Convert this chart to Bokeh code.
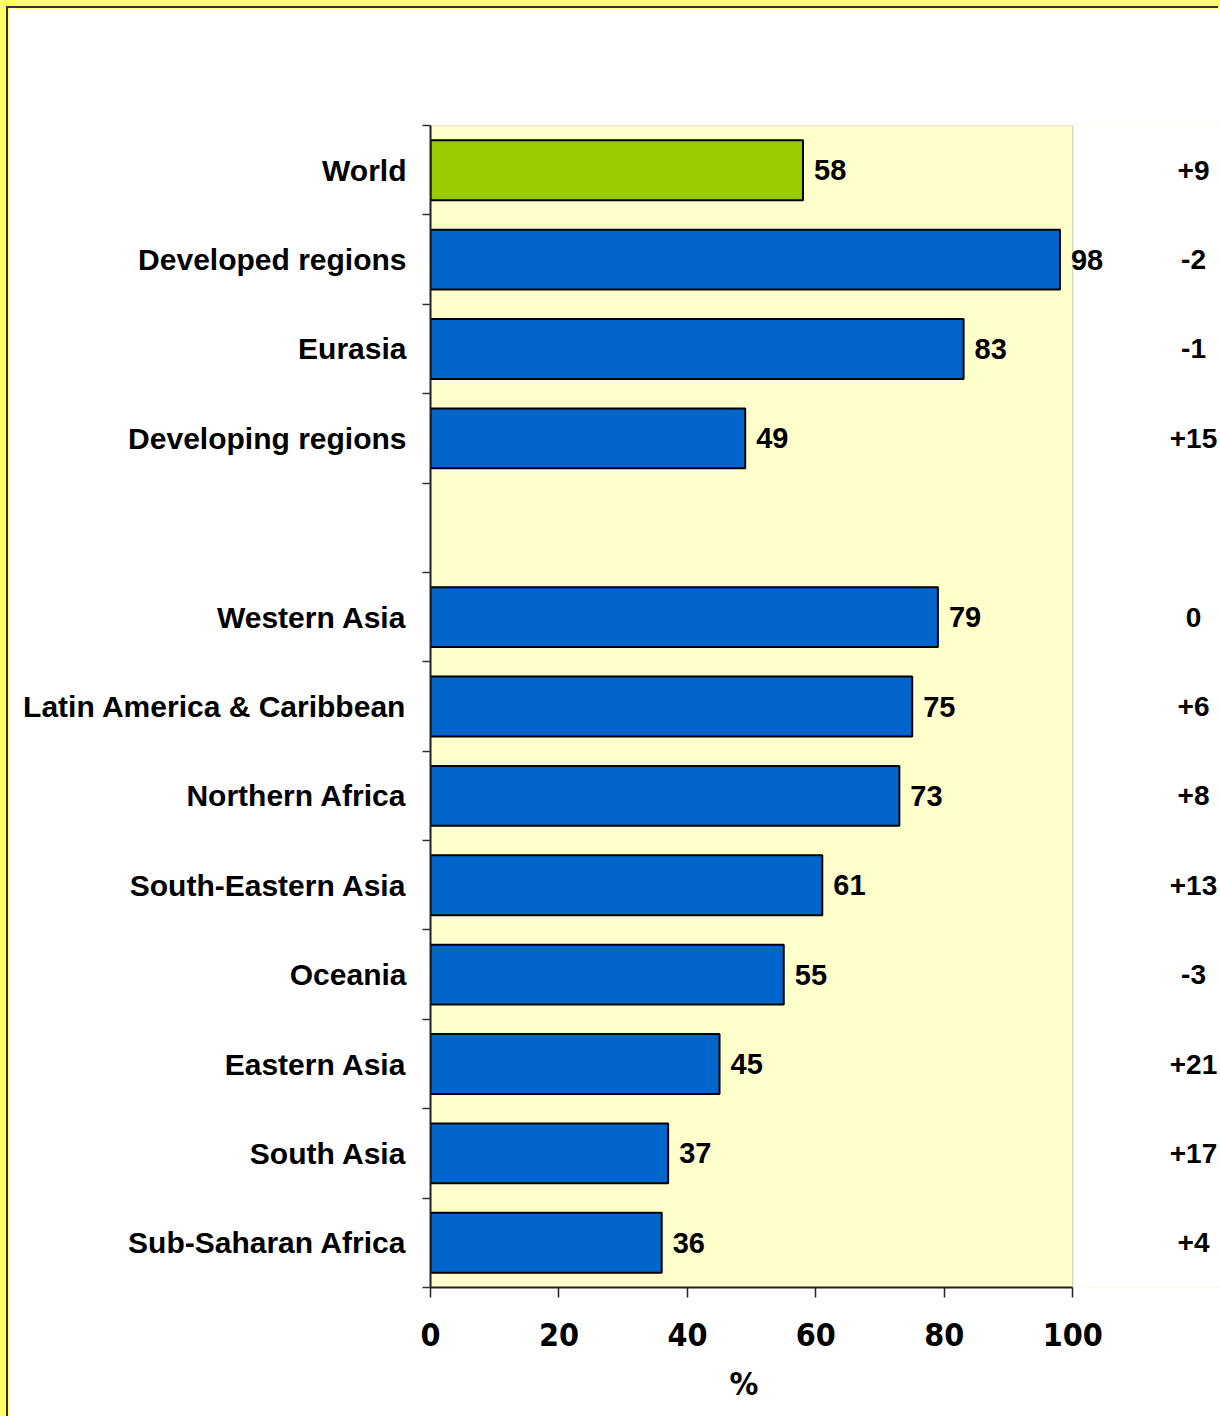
from bokeh.plotting import figure
from bokeh.models import Range1d, FixedTicker, LabelSet, ColumnDataSource, BoxAnnotation, Title
from bokeh.core.properties import value
from bokeh.embed import file_html
from bokeh.resources import INLINE

# ---- data ----
regions = ["World", "Developed regions", "Eurasia", "Developing regions", "",
           "Western Asia", "Latin America & Caribbean", "Northern Africa",
           "South-Eastern Asia", "Oceania", "Eastern Asia", "South Asia",
           "Sub-Saharan Africa"]
values = [58, 98, 83, 49, None, 79, 75, 73, 61, 55, 45, 37, 36]
changes = ["+9", "-2", "-1", "+15", "", "0", "+6", "+8", "+13", "-3", "+21", "+17", "+4"]
x_ticks = [0, 20, 40, 60, 80, 100]
x_title = "%"

# ---- styles ----
BLUE = "#0066CC"
GREEN = "#99CC00"
FONT = "Liberation Sans"
NARROW = "DejaVu Sans Condensed"
AXIS_MAX = 100
VIEW_MAX = 123.0
CHANGE_X = 118.8

rows = [i for i, v in enumerate(values) if v is not None]
bar_src = ColumnDataSource(dict(
    y=rows,
    v=[values[i] for i in rows],
    vt=[str(values[i]) for i in rows],
    color=[GREEN if regions[i] == "World" else BLUE for i in rows],
))
chg_rows = [i for i, c in enumerate(changes) if c]
chg_src = ColumnDataSource(dict(
    y=chg_rows,
    x=[CHANGE_X] * len(chg_rows),
    t=[changes[i] for i in chg_rows],
))

n = len(regions)
p = figure(width=1212, height=1430,
           x_range=Range1d(0, VIEW_MAX), y_range=Range1d(n - 0.5, -0.5),
           output_backend="svg", toolbar_location=None,
           min_border_left=422, min_border_right=0,
           min_border_top=117, min_border_bottom=151)
p.background_fill_color = "white"
p.border_fill_color = "white"
p.outline_line_color = None
p.grid.visible = False
p.styles = {"box-shadow": "-2px -2px 0 0 #333333"}

# plot area background (0..100) with grey border
p.add_layout(BoxAnnotation(left=0, right=AXIS_MAX, fill_color="#FFFFCC", fill_alpha=1,
                           line_color="#808080", line_width=1.5, level="underlay"))

p.hbar(y="y", left=0, right="v", height=0.67, fill_color="color",
       line_color="black", line_width=2, source=bar_src)

# y axis: labels at centers, ticks at boundaries
ya = p.yaxis[0]
ya.ticker = FixedTicker(ticks=[i for i, r in enumerate(regions) if r],
                        minor_ticks=[i - 0.5 for i in range(n + 1)])
ya.major_label_overrides = {i: r for i, r in enumerate(regions) if r}
ya.major_tick_line_color = None
ya.major_tick_out = 0
ya.major_tick_in = 0
ya.minor_tick_out = 8
ya.minor_tick_in = 0
ya.minor_tick_line_color = "#333333"
ya.minor_tick_line_width = 1.5
ya.axis_line_color = "#222222"
ya.axis_line_width = 2
ya.major_label_standoff = 16
ya.major_label_text_font = FONT
ya.major_label_text_font_style = "bold"
ya.major_label_text_font_size = "30px"
ya.major_label_text_color = "black"

xa = p.xaxis[0]
xa.bounds = (0, AXIS_MAX)
xa.ticker = FixedTicker(ticks=x_ticks, minor_ticks=[])
xa.major_tick_out = 10
xa.major_tick_in = 0
xa.major_tick_line_color = "#222222"
xa.major_tick_line_width = 1.5
xa.axis_line_color = "#222222"
xa.axis_line_width = 2
xa.major_label_standoff = 25
xa.major_label_text_font = NARROW
xa.major_label_text_font_style = "bold"
xa.major_label_text_font_size = "32px"
xa.major_label_text_color = "black"

# "%" title centred under the 0..100 axis
p.add_layout(Title(text=x_title, align="left", offset=299, standoff=28,
                   text_font=NARROW, text_font_style="bold",
                   text_font_size="32px", text_color="black"), "below")

p.add_layout(LabelSet(x="v", y="y", text="vt", source=bar_src, x_offset=11,
                      text_baseline="middle", text_align="left",
                      text_font=value(FONT), text_font_style="bold",
                      text_font_size="29px", text_color="black"))
p.add_layout(LabelSet(x="x", y="y", text="t", source=chg_src,
                      text_baseline="middle", text_align="center",
                      text_font=value(FONT), text_font_style="bold",
                      text_font_size="28px", text_color="black"))

html = file_html(p, INLINE)
html = html.replace("</head>",
                    "<style>html, body { background: #FFFF66; overflow: hidden; } "
                    "body { padding: 8px 0 0 8px !important; }</style></head>", 1)
open("out.html", "w").write(html)
